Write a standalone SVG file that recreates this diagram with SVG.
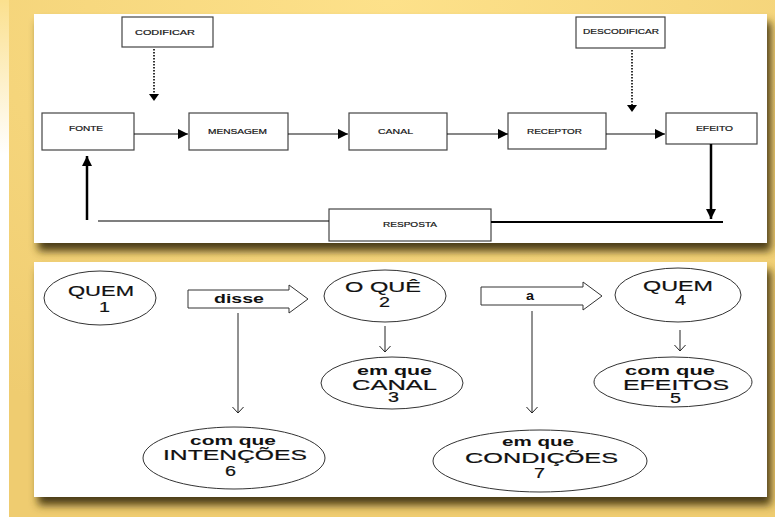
<svg xmlns="http://www.w3.org/2000/svg" width="775" height="517" viewBox="0 0 775 517">
<style>
  .box { fill: #ffffff; stroke: #444444; stroke-width: 1.2; }
  .t { font-family: "Liberation Sans", Arial, sans-serif; font-size: 8px; fill: #111111; stroke: #111111; stroke-width: 0.2; }
  .ell { fill: #ffffff; stroke: #333333; stroke-width: 1; }
  .cap { font-family: "Liberation Sans", Arial, sans-serif; font-size: 15px; fill: #111111; stroke: #111111; stroke-width: 0.2; }
  .sm { font-family: "Liberation Sans", Arial, sans-serif; font-size: 13px; font-weight: bold; fill: #111111; }
  .ln { stroke: #111111; stroke-width: 1.2; fill: none; }
  .thick { stroke: #000000; stroke-width: 2.5; fill: none; }
  .dot { stroke: #333333; stroke-width: 2; stroke-dasharray: 1.5 1.5; fill: none; }
  .thin { stroke: #222222; stroke-width: 1; fill: none; }
  .blk { fill: #ffffff; stroke: #333333; stroke-width: 1; }
</style>
<defs>
  <radialGradient id="bg" cx="0.5" cy="0" r="0.9">
    <stop offset="0" stop-color="#fde18a"/>
    <stop offset="1" stop-color="#efcc70"/>
  </radialGradient>
  <linearGradient id="edge" x1="0" y1="0" x2="0" y2="1">
    <stop offset="0" stop-color="#fbe08e"/>
    <stop offset="0.3" stop-color="#ffffff"/>
    <stop offset="1" stop-color="#ffffff"/>
  </linearGradient>
  <filter id="sh" x="-5%" y="-5%" width="115%" height="125%">
    <feGaussianBlur in="SourceAlpha" stdDeviation="4"/>
    <feOffset dx="4" dy="8" result="b"/>
    <feFlood flood-color="#4a3c15" flood-opacity="1"/>
    <feComposite in2="b" operator="in"/>
    <feMerge><feMergeNode/><feMergeNode in="SourceGraphic"/></feMerge>
  </filter>
  <marker id="tri" viewBox="0 0 10 10" markerUnits="userSpaceOnUse" markerWidth="12" markerHeight="10" refX="10" refY="5" orient="auto">
    <path d="M0,0 L10,5 L0,10 z" fill="#000000"/>
  </marker>
  <marker id="vee" viewBox="0 0 7 12" markerUnits="userSpaceOnUse" markerWidth="7" markerHeight="12" refX="6.5" refY="6" orient="auto">
    <path d="M0,0 L6.5,6 L0,12" fill="none" stroke="#222222" stroke-width="1"/>
  </marker>
</defs>

<rect x="0" y="0" width="775" height="517" fill="url(#bg)"/>
<rect x="0" y="0" width="9" height="517" fill="url(#edge)"/>

<!-- panels -->
<rect x="34" y="14" width="733" height="229" fill="#ffffff" filter="url(#sh)"/>
<rect x="34" y="262" width="733" height="235" fill="#ffffff" filter="url(#sh)"/>

<!-- top panel nodes -->
<g id="codificar">
  <rect class="box" x="122" y="17" width="91" height="30"/>
  <text class="t" x="135" y="35" textLength="60" lengthAdjust="spacingAndGlyphs">CODIFICAR</text>
</g>
<g id="descodificar">
  <rect class="box" x="576" y="17" width="89" height="31"/>
  <text class="t" x="583" y="34" textLength="76" lengthAdjust="spacingAndGlyphs">DESCODIFICAR</text>
</g>
<g id="fonte">
  <rect class="box" x="42" y="113" width="92" height="37"/>
  <text class="t" x="69" y="131" textLength="34" lengthAdjust="spacingAndGlyphs">FONTE</text>
</g>
<g id="mensagem">
  <rect class="box" x="189" y="113" width="99" height="37"/>
  <text class="t" x="208" y="134" textLength="59" lengthAdjust="spacingAndGlyphs">MENSAGEM</text>
</g>
<g id="canal">
  <rect class="box" x="349" y="113" width="98" height="37"/>
  <text class="t" x="378" y="134" textLength="35" lengthAdjust="spacingAndGlyphs">CANAL</text>
</g>
<g id="receptor">
  <rect class="box" x="508" y="113" width="98" height="36"/>
  <text class="t" x="527" y="134" textLength="55" lengthAdjust="spacingAndGlyphs">RECEPTOR</text>
</g>
<g id="efeito">
  <rect class="box" x="666" y="113" width="91" height="31"/>
  <text class="t" x="696" y="131" textLength="37" lengthAdjust="spacingAndGlyphs">EFEITO</text>
</g>
<g id="resposta">
  <rect class="box" x="329" y="209" width="162" height="32"/>
  <text class="t" x="383" y="227" textLength="54" lengthAdjust="spacingAndGlyphs">RESPOSTA</text>
</g>

<!-- top connectors -->
<g id="top-connectors">
  <line class="dot" x1="154" y1="49" x2="154" y2="94"/>
  <path d="M149,94 L159,94 L154,101 z" fill="#000"/>
  <line class="dot" x1="632" y1="50" x2="632" y2="105"/>
  <path d="M627,105 L637,105 L632,112 z" fill="#000"/>
  <line class="ln" x1="134" y1="134" x2="188" y2="134" marker-end="url(#tri)"/>
  <line class="ln" x1="288" y1="134" x2="348" y2="134" marker-end="url(#tri)"/>
  <line class="ln" x1="447" y1="134" x2="508" y2="134" marker-end="url(#tri)"/>
  <line class="ln" x1="606" y1="134" x2="665" y2="134" marker-end="url(#tri)"/>
  <line class="thick" x1="711" y1="144" x2="711" y2="219" marker-end="url(#tri)"/>
  <line x1="491" y1="222" x2="723" y2="222" stroke="#000" stroke-width="2"/>
  <line x1="98" y1="221" x2="329" y2="221" stroke="#000" stroke-width="1.2"/>
  <line class="thick" x1="87" y1="220" x2="87" y2="156" marker-end="url(#tri)"/>
</g>

<!-- bottom panel nodes -->
<g id="quem1">
  <ellipse class="ell" cx="100" cy="298" rx="56" ry="27"/>
  <text class="cap" x="68" y="296" textLength="66" lengthAdjust="spacingAndGlyphs">QUEM</text>
  <text class="cap" x="99" y="312" textLength="11" lengthAdjust="spacingAndGlyphs">1</text>
</g>
<g id="disse">
  <polygon class="blk" points="188,290 289,290 289,285 308,299 289,313 289,308 188,308"/>
  <text class="sm" x="214" y="303" textLength="50" lengthAdjust="spacingAndGlyphs">disse</text>
</g>
<g id="oque2">
  <ellipse class="ell" cx="385" cy="296" rx="61" ry="26"/>
  <text class="cap" x="345" y="292" textLength="76" lengthAdjust="spacingAndGlyphs">O QUÊ</text>
  <text class="cap" x="379" y="307" textLength="11" lengthAdjust="spacingAndGlyphs">2</text>
</g>
<g id="canal3">
  <ellipse class="ell" cx="392" cy="383" rx="71" ry="26"/>
  <text class="sm" x="357" y="375" textLength="75" lengthAdjust="spacingAndGlyphs">em que</text>
  <text class="cap" x="352" y="390" textLength="85" lengthAdjust="spacingAndGlyphs">CANAL</text>
  <text class="cap" x="388" y="402" textLength="11" lengthAdjust="spacingAndGlyphs">3</text>
</g>
<g id="a">
  <polygon class="blk" points="481,287 583,287 583,282 602,296 583,310 583,305 481,305"/>
  <text class="sm" x="526" y="300" textLength="8" lengthAdjust="spacingAndGlyphs">a</text>
</g>
<g id="quem4">
  <ellipse class="ell" cx="678" cy="295" rx="63" ry="27"/>
  <text class="cap" x="643" y="291" textLength="70" lengthAdjust="spacingAndGlyphs">QUEM</text>
  <text class="cap" x="675" y="305" textLength="11" lengthAdjust="spacingAndGlyphs">4</text>
</g>
<g id="efeitos5">
  <ellipse class="ell" cx="673" cy="382" rx="79" ry="25"/>
  <text class="sm" x="625" y="375" textLength="90" lengthAdjust="spacingAndGlyphs">com que</text>
  <text class="cap" x="623" y="390" textLength="106" lengthAdjust="spacingAndGlyphs">EFEITOS</text>
  <text class="cap" x="670" y="403" textLength="11" lengthAdjust="spacingAndGlyphs">5</text>
</g>
<g id="intencoes6">
  <ellipse class="ell" cx="234" cy="458" rx="91" ry="31"/>
  <text class="sm" x="190" y="445" textLength="86" lengthAdjust="spacingAndGlyphs">com que</text>
  <text class="cap" x="163" y="460" textLength="144" lengthAdjust="spacingAndGlyphs">INTENÇÕES</text>
  <text class="cap" x="225" y="476" textLength="11" lengthAdjust="spacingAndGlyphs">6</text>
</g>
<g id="condicoes7">
  <ellipse class="ell" cx="540" cy="461" rx="107" ry="31"/>
  <text class="sm" x="502" y="446" textLength="72" lengthAdjust="spacingAndGlyphs">em que</text>
  <text class="cap" x="465" y="463" textLength="153" lengthAdjust="spacingAndGlyphs">CONDIÇÕES</text>
  <text class="cap" x="534" y="478" textLength="11" lengthAdjust="spacingAndGlyphs">7</text>
</g>

<!-- bottom connectors -->
<g id="bottom-connectors">
  <line class="thin" x1="238" y1="313" x2="238" y2="413" marker-end="url(#vee)"/>
  <line class="thin" x1="532" y1="311" x2="532" y2="413" marker-end="url(#vee)"/>
  <line class="thin" x1="385" y1="326" x2="385" y2="352" marker-end="url(#vee)"/>
  <line class="thin" x1="680" y1="330" x2="680" y2="351" marker-end="url(#vee)"/>
</g>
</svg>
